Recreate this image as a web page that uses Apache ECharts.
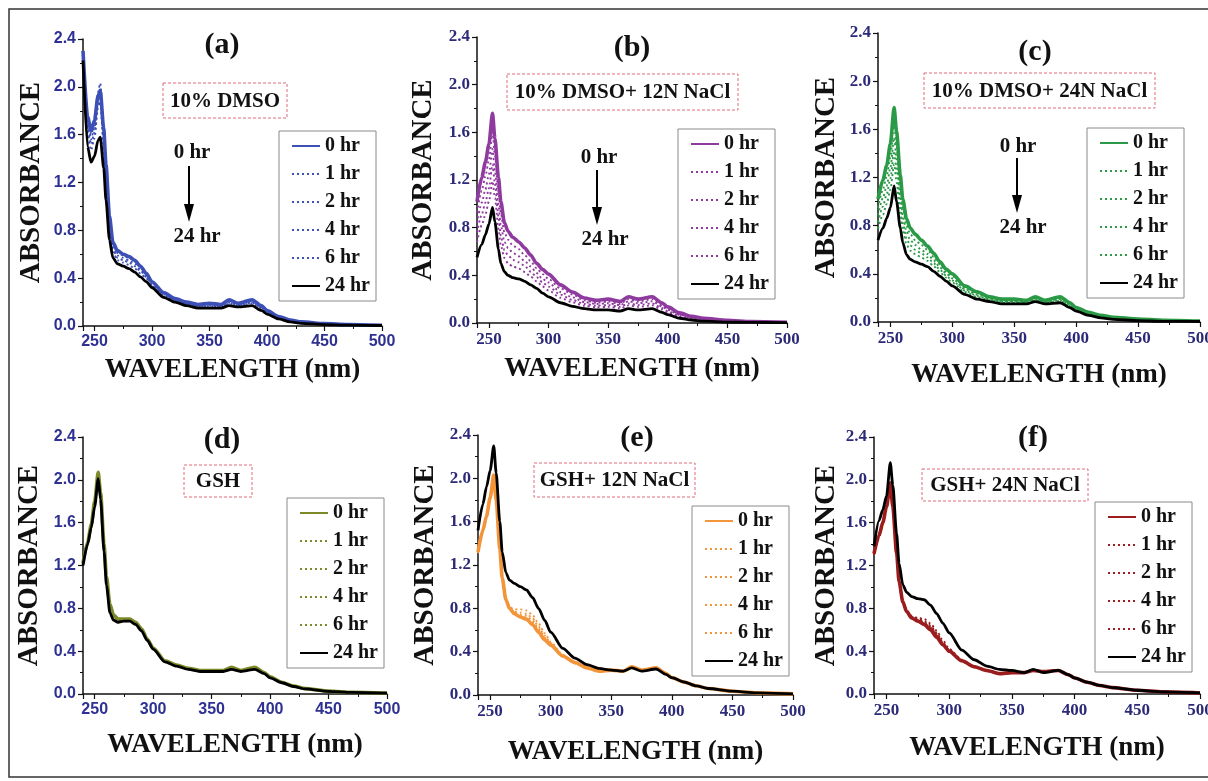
<!DOCTYPE html>
<html><head><meta charset="utf-8">
<script src="https://cdn.jsdelivr.net/npm/echarts@6.0.0/dist/echarts.min.js"></script>
<style>html,body{margin:0;padding:0;background:#fff}#c{width:1208px;height:781px}</style>
</head><body><div id="c"></div>
<script>
// ---------- DATA ----------
const wavelength = [240,244,247,250,253,255,258,260,263,266,270,275,280,285,290,295,300,310,320,330,340,350,360,367,375,387,395,400,410,420,430,450,470,500];
const hours = ['0 hr','1 hr','2 hr','4 hr','6 hr','24 hr'];
const panelLabels = ['(a)','(b)','(c)','(d)','(e)','(f)'];
const sampleLabels = ['10% DMSO','10% DMSO+ 12N NaCl','10% DMSO+ 24N NaCl','GSH','GSH+ 12N NaCl','GSH+ 24N NaCl'];
const xTitle = 'WAVELENGTH (nm)';
const yTitle = 'ABSORBANCE';

// (a) 10% DMSO
const a0  = [2.30,1.75,1.63,1.72,1.92,1.97,1.65,1.35,0.92,0.70,0.63,0.60,0.58,0.55,0.50,0.44,0.37,0.28,0.23,0.20,0.18,0.19,0.18,0.22,0.19,0.22,0.17,0.13,0.08,0.05,0.035,0.02,0.012,0.006];
const a1  = [2.28,1.72,1.60,1.70,1.95,2.03,1.62,1.32,0.90,0.68,0.61,0.59,0.57,0.54,0.49,0.43,0.36,0.27,0.22,0.19,0.175,0.18,0.175,0.21,0.185,0.21,0.165,0.125,0.077,0.048,0.033,0.019,0.011,0.006];
const a2  = [2.27,1.68,1.56,1.66,1.90,1.96,1.58,1.28,0.87,0.66,0.59,0.57,0.55,0.52,0.47,0.42,0.35,0.265,0.215,0.185,0.17,0.175,0.17,0.20,0.18,0.20,0.16,0.12,0.074,0.046,0.031,0.018,0.010,0.005];
const a4  = [2.26,1.64,1.52,1.62,1.86,1.92,1.54,1.25,0.84,0.64,0.57,0.55,0.53,0.50,0.46,0.41,0.34,0.26,0.21,0.18,0.165,0.17,0.165,0.195,0.175,0.195,0.155,0.115,0.071,0.044,0.030,0.017,0.010,0.005];
const a6  = [2.25,1.60,1.47,1.57,1.82,1.88,1.50,1.22,0.81,0.62,0.55,0.53,0.51,0.48,0.44,0.40,0.33,0.25,0.205,0.175,0.16,0.165,0.16,0.19,0.17,0.19,0.15,0.11,0.068,0.042,0.028,0.016,0.009,0.005];
const a24 = [2.22,1.50,1.37,1.42,1.55,1.58,1.32,1.05,0.72,0.57,0.52,0.50,0.48,0.45,0.41,0.37,0.32,0.24,0.20,0.17,0.15,0.15,0.15,0.17,0.16,0.17,0.13,0.10,0.06,0.035,0.022,0.012,0.007,0.004];
// (b) 10% DMSO + 12N NaCl
const b0  = [1.02,1.22,1.35,1.50,1.76,1.55,1.22,1.02,0.84,0.77,0.72,0.68,0.63,0.57,0.50,0.45,0.41,0.32,0.26,0.21,0.19,0.20,0.18,0.22,0.20,0.22,0.17,0.135,0.085,0.056,0.04,0.022,0.012,0.006];
const b1  = [0.93,1.11,1.23,1.37,1.60,1.41,1.10,0.92,0.76,0.70,0.65,0.62,0.57,0.52,0.46,0.41,0.37,0.29,0.24,0.19,0.17,0.18,0.16,0.20,0.18,0.20,0.15,0.12,0.076,0.05,0.035,0.019,0.01,0.005];
const b2  = [0.84,1.01,1.12,1.25,1.46,1.28,0.99,0.82,0.68,0.63,0.59,0.56,0.52,0.475,0.42,0.37,0.34,0.26,0.215,0.176,0.16,0.166,0.15,0.182,0.166,0.182,0.14,0.11,0.068,0.044,0.031,0.017,0.009,0.005];
const b4  = [0.76,0.91,1.01,1.13,1.33,1.17,0.89,0.73,0.61,0.57,0.53,0.51,0.48,0.43,0.385,0.34,0.305,0.238,0.194,0.16,0.146,0.15,0.136,0.165,0.15,0.165,0.126,0.10,0.06,0.039,0.026,0.014,0.008,0.004];
const b6  = [0.68,0.82,0.91,1.02,1.19,1.05,0.79,0.65,0.545,0.50,0.475,0.457,0.428,0.39,0.35,0.306,0.273,0.212,0.174,0.145,0.132,0.135,0.122,0.148,0.135,0.148,0.112,0.088,0.053,0.034,0.022,0.012,0.007,0.004];
const b24 = [0.55,0.66,0.74,0.83,0.97,0.85,0.62,0.50,0.43,0.40,0.38,0.37,0.35,0.32,0.29,0.25,0.22,0.17,0.14,0.12,0.11,0.11,0.10,0.12,0.11,0.12,0.09,0.07,0.04,0.025,0.015,0.008,0.005,0.003];
// (c) 10% DMSO + 24N NaCl
const c0  = [1.02,1.18,1.30,1.48,1.78,1.58,1.22,1.02,0.86,0.78,0.73,0.68,0.63,0.57,0.50,0.44,0.40,0.30,0.25,0.21,0.19,0.19,0.18,0.21,0.18,0.21,0.16,0.12,0.08,0.055,0.04,0.025,0.015,0.008];
const c1  = [0.95,1.10,1.21,1.37,1.65,1.46,1.13,0.95,0.80,0.73,0.68,0.64,0.60,0.54,0.48,0.42,0.38,0.286,0.238,0.202,0.182,0.182,0.174,0.202,0.174,0.20,0.152,0.114,0.075,0.051,0.036,0.022,0.013,0.007];
const c2  = [0.89,1.03,1.13,1.28,1.53,1.36,1.05,0.88,0.75,0.68,0.64,0.60,0.565,0.513,0.454,0.402,0.362,0.273,0.227,0.195,0.175,0.175,0.169,0.195,0.169,0.191,0.145,0.109,0.071,0.047,0.033,0.02,0.012,0.006];
const c4  = [0.83,0.96,1.06,1.19,1.42,1.26,0.98,0.82,0.695,0.637,0.60,0.57,0.537,0.488,0.434,0.385,0.345,0.262,0.217,0.188,0.168,0.168,0.164,0.188,0.164,0.183,0.138,0.104,0.066,0.044,0.03,0.017,0.01,0.006];
const c6  = [0.775,0.89,0.98,1.10,1.31,1.16,0.90,0.76,0.644,0.593,0.564,0.536,0.508,0.462,0.414,0.368,0.328,0.25,0.207,0.181,0.161,0.161,0.158,0.181,0.158,0.174,0.131,0.098,0.062,0.041,0.027,0.015,0.008,0.005];
const c24 = [0.68,0.78,0.86,0.95,1.13,1.00,0.78,0.66,0.56,0.52,0.50,0.48,0.46,0.42,0.38,0.34,0.30,0.23,0.19,0.17,0.15,0.15,0.15,0.17,0.15,0.16,0.12,0.09,0.055,0.035,0.022,0.011,0.006,0.004];
// (d) GSH
const d0  = [1.22,1.42,1.58,1.80,2.07,1.88,1.40,1.10,0.84,0.74,0.70,0.70,0.70,0.67,0.61,0.51,0.43,0.31,0.27,0.24,0.22,0.22,0.22,0.25,0.22,0.25,0.20,0.16,0.11,0.075,0.05,0.027,0.016,0.008];
const d1  = [1.22,1.42,1.58,1.79,2.06,1.87,1.39,1.09,0.83,0.73,0.70,0.70,0.70,0.67,0.61,0.51,0.43,0.31,0.27,0.24,0.22,0.22,0.22,0.25,0.22,0.25,0.20,0.16,0.11,0.074,0.05,0.027,0.016,0.008];
const d2  = [1.21,1.41,1.57,1.78,2.05,1.86,1.38,1.08,0.82,0.72,0.69,0.69,0.69,0.66,0.60,0.51,0.43,0.31,0.27,0.24,0.22,0.22,0.22,0.245,0.22,0.245,0.20,0.16,0.11,0.073,0.049,0.026,0.016,0.008];
const d4  = [1.21,1.41,1.56,1.77,2.04,1.85,1.37,1.07,0.81,0.72,0.69,0.69,0.69,0.66,0.60,0.50,0.42,0.31,0.265,0.235,0.215,0.215,0.215,0.24,0.215,0.24,0.195,0.155,0.108,0.072,0.048,0.026,0.015,0.008];
const d6  = [1.21,1.40,1.56,1.76,2.03,1.84,1.36,1.06,0.80,0.71,0.68,0.68,0.68,0.65,0.60,0.50,0.42,0.30,0.265,0.235,0.215,0.215,0.215,0.24,0.215,0.24,0.195,0.155,0.107,0.071,0.048,0.025,0.015,0.008];
const d24 = [1.20,1.40,1.55,1.75,2.01,1.82,1.33,1.02,0.76,0.69,0.67,0.68,0.68,0.65,0.59,0.50,0.42,0.30,0.26,0.23,0.21,0.21,0.21,0.23,0.21,0.23,0.19,0.15,0.105,0.07,0.047,0.025,0.015,0.008];
// (e) GSH + 12N NaCl
const e0  = [1.32,1.52,1.65,1.82,2.03,1.80,1.35,1.08,0.88,0.80,0.75,0.72,0.70,0.65,0.58,0.51,0.46,0.36,0.30,0.25,0.22,0.23,0.22,0.26,0.23,0.25,0.20,0.16,0.12,0.085,0.06,0.035,0.02,0.01];
const e1  = [1.33,1.53,1.66,1.83,2.04,1.80,1.36,1.09,0.89,0.81,0.79,0.79,0.78,0.74,0.66,0.57,0.49,0.37,0.30,0.255,0.23,0.23,0.22,0.26,0.23,0.25,0.20,0.16,0.12,0.085,0.06,0.035,0.02,0.01];
const e2  = [1.32,1.52,1.65,1.82,2.03,1.80,1.35,1.08,0.88,0.80,0.77,0.76,0.75,0.71,0.63,0.55,0.48,0.36,0.30,0.25,0.23,0.23,0.22,0.26,0.23,0.25,0.20,0.16,0.12,0.085,0.06,0.035,0.02,0.01];
const e4  = [1.31,1.51,1.64,1.81,2.02,1.79,1.34,1.07,0.87,0.80,0.76,0.74,0.73,0.69,0.61,0.53,0.47,0.36,0.295,0.25,0.23,0.23,0.22,0.26,0.23,0.25,0.20,0.16,0.12,0.085,0.06,0.035,0.02,0.01];
const e6  = [1.31,1.51,1.64,1.81,2.02,1.79,1.34,1.07,0.87,0.79,0.75,0.73,0.71,0.67,0.60,0.52,0.46,0.355,0.29,0.25,0.23,0.23,0.22,0.26,0.23,0.25,0.20,0.16,0.12,0.085,0.06,0.035,0.02,0.01];
const e24 = [1.52,1.76,1.92,2.07,2.30,2.05,1.60,1.32,1.13,1.06,1.03,1.00,0.97,0.90,0.80,0.69,0.58,0.43,0.34,0.28,0.245,0.23,0.22,0.25,0.22,0.24,0.19,0.16,0.12,0.085,0.06,0.035,0.02,0.01];
// (f) GSH + 24N NaCl
const f0  = [1.31,1.48,1.60,1.75,1.97,1.75,1.32,1.05,0.86,0.77,0.71,0.68,0.65,0.60,0.53,0.46,0.40,0.31,0.255,0.22,0.19,0.20,0.20,0.22,0.21,0.22,0.18,0.15,0.11,0.08,0.06,0.035,0.02,0.01];
const f1  = [1.32,1.49,1.61,1.76,1.96,1.76,1.33,1.06,0.87,0.78,0.73,0.71,0.70,0.66,0.59,0.50,0.42,0.32,0.26,0.22,0.195,0.20,0.20,0.22,0.21,0.22,0.18,0.15,0.11,0.08,0.06,0.035,0.02,0.01];
const f2  = [1.31,1.48,1.60,1.75,1.95,1.75,1.32,1.05,0.86,0.78,0.72,0.70,0.68,0.64,0.57,0.48,0.41,0.31,0.255,0.22,0.195,0.20,0.20,0.22,0.21,0.22,0.18,0.15,0.11,0.08,0.06,0.035,0.02,0.01];
const f4  = [1.30,1.47,1.59,1.74,1.94,1.74,1.31,1.05,0.86,0.77,0.72,0.69,0.67,0.63,0.56,0.47,0.40,0.31,0.255,0.22,0.195,0.20,0.20,0.22,0.21,0.22,0.18,0.15,0.11,0.08,0.06,0.035,0.02,0.01];
const f6  = [1.30,1.47,1.59,1.74,1.93,1.73,1.31,1.04,0.85,0.77,0.71,0.69,0.66,0.62,0.55,0.46,0.39,0.305,0.25,0.22,0.19,0.20,0.20,0.22,0.21,0.22,0.18,0.15,0.11,0.08,0.06,0.035,0.02,0.01];
const f24 = [1.38,1.62,1.72,1.85,2.16,1.95,1.50,1.22,1.02,0.95,0.91,0.89,0.88,0.83,0.75,0.66,0.57,0.41,0.32,0.26,0.23,0.22,0.20,0.23,0.20,0.22,0.18,0.15,0.11,0.08,0.06,0.035,0.02,0.01];

const panelSeries = [[a0,a1,a2,a4,a6,a24],[b0,b1,b2,b4,b6,b24],[c0,c1,c2,c4,c6,c24],[d0,d1,d2,d4,d6,d24],[e0,e1,e2,e4,e6,e24],[f0,f1,f2,f4,f6,f24]];
const arrowFrom = '0 hr', arrowTo = '24 hr';

// ---------- LAYOUT / STYLE ----------
const colors = ['#3d50b6','#8f3a9e','#2b9a47','#7e8a2a','#f3953a','#9b1d1d'];
const SERIF = '"Liberation Serif","Times New Roman",serif';
const SANS = '"Liberation Sans",Arial,sans-serif';
const layout = [
  {grid:{left:83,top:39,width:299,height:287}, xGap:31, yGap:37, lab:[222,45], box:[163,83,124,35], leg:[279,131], arrow:{tx0:192,ty0:153,x:189,y1:166,y2:222,tx1:197,ty1:237}, sans:true, tickColor:'#2e3192'},
  {grid:{left:477,top:37,width:310,height:286}, xGap:33, yGap:39, lab:[632,48], box:[507,74,231,36], leg:[678,129], arrow:{tx0:599,ty0:158,x:597,y1:170,y2:225,tx1:605,ty1:240}, sans:false, tickColor:'#2c2a78'},
  {grid:{left:878,top:33,width:322,height:289}, xGap:40, yGap:37, lab:[1035,52], box:[924,73,231,35], leg:[1087,128], arrow:{tx0:1018,ty0:147,x:1017,y1:158,y2:213,tx1:1023,ty1:228}, sans:false, tickColor:'#2c2a78'},
  {grid:{left:83,top:437,width:304,height:257}, xGap:38, yGap:39, lab:[222,440], box:[184,465,68,32], leg:[287,498], arrow:null, sans:true, tickColor:'#2e3192'},
  {grid:{left:478,top:435,width:315,height:260}, xGap:44, yGap:38, lab:[637,438], box:[534,463,161,34], leg:[692,506], arrow:null, sans:false, tickColor:'#2c2a78'},
  {grid:{left:874,top:437,width:326,height:257}, xGap:41, yGap:33, lab:[1033,438], box:[922,469,166,32], leg:[1095,502], arrow:null, sans:false, tickColor:'#2c2a78'}
];

const grids = [], xAxes = [], yAxes = [], series = [], legends = [], graphics = [];
layout.forEach((L, p) => {
  grids.push(Object.assign({outerBoundsMode:'none', containLabel:false}, L.grid));
  const tickFont = {color:L.tickColor, fontFamily:L.sans?SANS:SERIF, fontWeight:'bold', fontSize:L.sans?16:17};
  const axisCommon = {
    gridIndex:p, type:'value', nameLocation:'middle', nameMoveOverlap:false,
    axisLine:{show:true, onZero:false, lineStyle:{color:'#111', width:1.5}},
    axisTick:{show:true, inside:false, length:5, lineStyle:{color:'#111', width:1.2}},
    minorTick:{show:true, splitNumber:2, length:3, lineStyle:{color:'#111', width:1}},
    splitLine:{show:false}, minorSplitLine:{show:false}
  };
  xAxes.push(Object.assign({}, axisCommon, {
    min:240, max:500, minInterval:50, maxInterval:50,
    name:xTitle, nameGap:L.xGap,
    nameTextStyle:{fontFamily:SERIF, fontWeight:'bold', fontSize:27, color:'#111'},
    axisLabel:Object.assign({showMinLabel:false, showMaxLabel:true, hideOverlap:false, margin:8}, tickFont)
  }));
  yAxes.push(Object.assign({}, axisCommon, {
    min:0, max:2.4, interval:0.4,
    name:yTitle, nameGap:L.yGap, nameRotate:90,
    nameTextStyle:{fontFamily:SERIF, fontWeight:'bold', fontSize:29, color:'#111'},
    axisLabel:Object.assign({margin:7, hideOverlap:false, formatter:v => v.toFixed(1)}, tickFont)
  }));
  const names = [];
  panelSeries[p].forEach((arr, k) => {
    const nm = panelLabels[p] + '|' + hours[k];
    names.push(nm);
    const isFirst = k === 0, isLast = k === hours.length - 1;
    series.push({
      type:'line', name:nm, xAxisIndex:p, yAxisIndex:p,
      data: wavelength.map((w, i) => [w, arr[i]]),
      symbol:'none', smooth:0.25, smoothMonotone:'x', animation:false,
      itemStyle:{color: isLast ? '#000' : colors[p]},
      lineStyle:{color: isLast ? '#000' : colors[p], width: isFirst ? 3.6 : (isLast ? 2.8 : 1.9), type: (isFirst || isLast) ? 'solid' : [2,3]},
      z: isLast ? 5 : (isFirst ? 2 : 3)
    });
  });
  legends.push({
    data:names, orient:'vertical', left:L.leg[0], top:L.leg[1],
    itemWidth:28, itemHeight:20, itemGap:8, padding:[5,6,5,12],
    borderColor:'#8a8a8a', borderWidth:1, backgroundColor:'#fff',
    selectedMode:false, itemStyle:{opacity:0},
    formatter: n => n.split('|')[1],
    textStyle:{fontFamily:SERIF, fontWeight:'bold', fontSize:20, color:'#111'}
  });
  graphics.push({type:'text', x:L.lab[0], y:L.lab[1], z:10, style:{text:panelLabels[p], fontFamily:SERIF, fontWeight:'bold', fontSize:30, fill:'#111', align:'center', verticalAlign:'middle'}});
  graphics.push({type:'rect', z:10, shape:{x:L.box[0], y:L.box[1], width:L.box[2], height:L.box[3]}, style:{fill:'#fff', stroke:'#e06a7a', lineWidth:1, lineDash:[3,2]}});
  graphics.push({type:'text', z:11, x:L.box[0] + L.box[2]/2, y:L.box[1] + L.box[3]/2 + 1, style:{text:sampleLabels[p], fontFamily:SERIF, fontWeight:'bold', fontSize:21, fill:'#111', align:'center', verticalAlign:'middle'}});
  if (L.arrow) {
    const A = L.arrow;
    graphics.push({type:'text', z:10, x:A.tx0, y:A.ty0, style:{text:arrowFrom, fontFamily:SERIF, fontWeight:'bold', fontSize:21, fill:'#111', align:'center', verticalAlign:'middle'}});
    graphics.push({type:'line', z:10, shape:{x1:A.x, y1:A.y1, x2:A.x, y2:A.y2 - 14}, style:{stroke:'#000', lineWidth:2}});
    graphics.push({type:'polygon', z:10, shape:{points:[[A.x - 5, A.y2 - 18],[A.x + 5, A.y2 - 18],[A.x, A.y2]]}, style:{fill:'#000'}});
    graphics.push({type:'text', z:10, x:A.tx1, y:A.ty1, style:{text:arrowTo, fontFamily:SERIF, fontWeight:'bold', fontSize:21, fill:'#111', align:'center', verticalAlign:'middle'}});
  }
});
graphics.push({type:'rect', z:0, shape:{x:9, y:9, width:1220, height:768}, style:{fill:'none', stroke:'#333', lineWidth:1.5}});

const chart = echarts.init(document.getElementById('c'), null, {renderer:'canvas'});
chart.setOption({
  backgroundColor:'#fff', animation:false,
  grid:grids, xAxis:xAxes, yAxis:yAxes, series:series, legend:legends, graphic:graphics
});
</script></body></html>
